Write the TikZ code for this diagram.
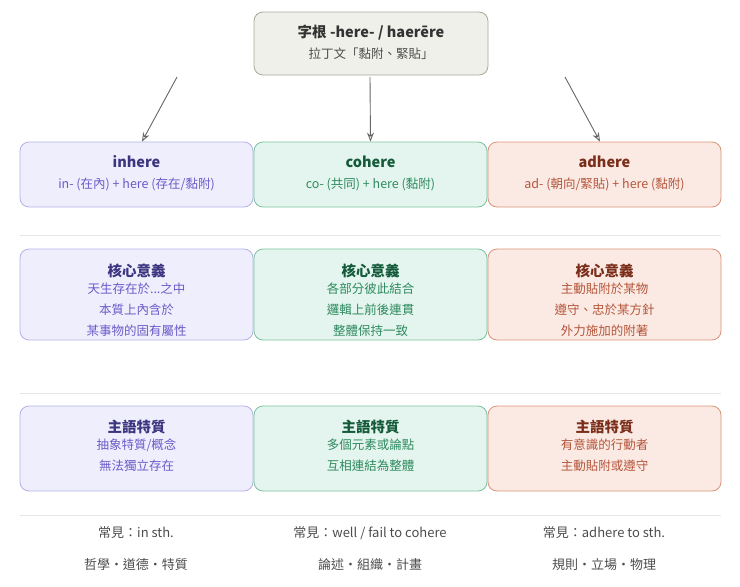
\documentclass[tikz,border=0pt]{standalone}
\usepackage{fontspec}
\setmainfont{Noto Sans CJK TC}
\usetikzlibrary{positioning,arrows.meta}
\definecolor{pFill}{HTML}{EEEEFD}\definecolor{pLine}{HTML}{B4B0E8}
\definecolor{pHead}{HTML}{3D3580}\definecolor{pText}{HTML}{6A5BC8}
\definecolor{gFill}{HTML}{E3F5EE}\definecolor{gLine}{HTML}{7FC0A0}
\definecolor{gHead}{HTML}{145A3A}\definecolor{gText}{HTML}{2F8A5F}
\definecolor{oFill}{HTML}{FBEAE4}\definecolor{oLine}{HTML}{D9937A}
\definecolor{oHead}{HTML}{7A2E1A}\definecolor{oText}{HTML}{B4553A}
\definecolor{rFill}{HTML}{F0F0EA}\definecolor{rLine}{HTML}{A8A89C}
\definecolor{sepLine}{HTML}{E6E6E6}
\tikzset{
  box/.style={draw, rounded corners=9pt, line width=0.8pt, minimum width=233pt, align=center, inner sep=0pt,
    font=\fontsize{13}{21}\selectfont},
  pbox/.style={box, fill=pFill, draw=pLine},
  gbox/.style={box, fill=gFill, draw=gLine},
  obox/.style={box, fill=oFill, draw=oLine},
  sep/.style={draw=sepLine, line width=0.8pt},
  arr/.style={-{Stealth[open,length=9pt,width=7pt]}, draw=gray!80!black, line width=0.9pt},
  nt/.style={font=\fontsize{13}{21}\selectfont, text=black!70}
}
\newcommand{\hd}[2]{{\fontsize{14.5}{21}\selectfont\bfseries\color{#1}#2}}
\newcommand{\tx}[2]{{\fontsize{12.5}{21}\selectfont\color{#1}#2}}
\newcommand{\pad}[1]{\rule{0pt}{0pt}\\[#1]}
\begin{document}
\begin{tikzpicture}[x=1pt,y=-1pt]
\useasboundingbox (0,0) rectangle (740,587);
% root
\node[box, fill=rFill, draw=rLine, minimum width=234pt, minimum height=63pt] (root) at (371,43.5)
  {\pad{-11pt}\hd{black!80}{字根 -here- / haerēre}\\\tx{black!70}{拉丁文「黏附、緊貼」}};
% words
\node[pbox, minimum height=65pt] (inhere) at (136.5,174.5) {\pad{-11pt}\hd{pHead}{inhere}\\\tx{pText}{in- (在內) + here (存在/黏附)}};
\node[gbox, minimum height=65pt] (cohere) at (370.5,174.5) {\pad{-11pt}\hd{gHead}{cohere}\\\tx{gText}{co- (共同) + here (黏附)}};
\node[obox, minimum height=65pt] (adhere) at (604.5,174.5) {\pad{-11pt}\hd{oHead}{adhere}\\\tx{oText}{ad- (朝向/緊貼) + here (黏附)}};
\coordinate (rl) at (177,77); \coordinate (rm) at (370,77); \coordinate (rr) at (565,77);
\draw[arr] (rl) -- (inhere.north -| 142,0);
\draw[arr] (rm) -- (cohere.north);
\draw[arr] (rr) -- (adhere.north -| 600,0);
\draw[sep] (20,235) -- (721,235);
% core meaning
\node[pbox, minimum height=91pt] (inCore) at (136.5,294.5) {\pad{3pt}\hd{pHead}{核心意義}\\[-4pt]\tx{pText}{天生存在於...之中}\\\tx{pText}{本質上內含於}\\\tx{pText}{某事物的固有屬性}};
\node[gbox, minimum height=91pt] (coCore) at (370.5,294.5) {\pad{3pt}\hd{gHead}{核心意義}\\[-4pt]\tx{gText}{各部分彼此結合}\\\tx{gText}{邏輯上前後連貫}\\\tx{gText}{整體保持一致}};
\node[obox, minimum height=91pt] (adCore) at (604.5,294.5) {\pad{3pt}\hd{oHead}{核心意義}\\[-4pt]\tx{oText}{主動貼附於某物}\\\tx{oText}{遵守、忠於某方針}\\\tx{oText}{外力施加的附著}};
\draw[sep] (20,393) -- (721,393);
% subject
\node[pbox, minimum height=85pt] (inSubj) at (136.5,448.5) {\pad{-13pt}\hd{pHead}{主語特質}\\[-4pt]\tx{pText}{抽象特質/概念}\\\tx{pText}{無法獨立存在}};
\node[gbox, minimum height=85pt] (coSubj) at (370.5,448.5) {\pad{-13pt}\hd{gHead}{主語特質}\\[-4pt]\tx{gText}{多個元素或論點}\\\tx{gText}{互相連結為整體}};
\node[obox, minimum height=85pt] (adSubj) at (604.5,448.5) {\pad{-13pt}\hd{oHead}{主語特質}\\[-4pt]\tx{oText}{有意識的行動者}\\\tx{oText}{主動貼附或遵守}};
\draw[sep] (20,515) -- (721,515);
% usage
\foreach \x/\u/\f [count=\i] in {136/{常見：in sth.}/{哲學・道德・特質},
    370/{常見：well / fail to cohere}/{論述・組織・計畫},
    604/{常見：adhere to sth.}/{規則・立場・物理}}{
  \node[nt] (use\i) at (\x,533) {\u};
  \node[nt] (field\i) at (\x,565) {\f};
}
\end{tikzpicture}
\end{document}
